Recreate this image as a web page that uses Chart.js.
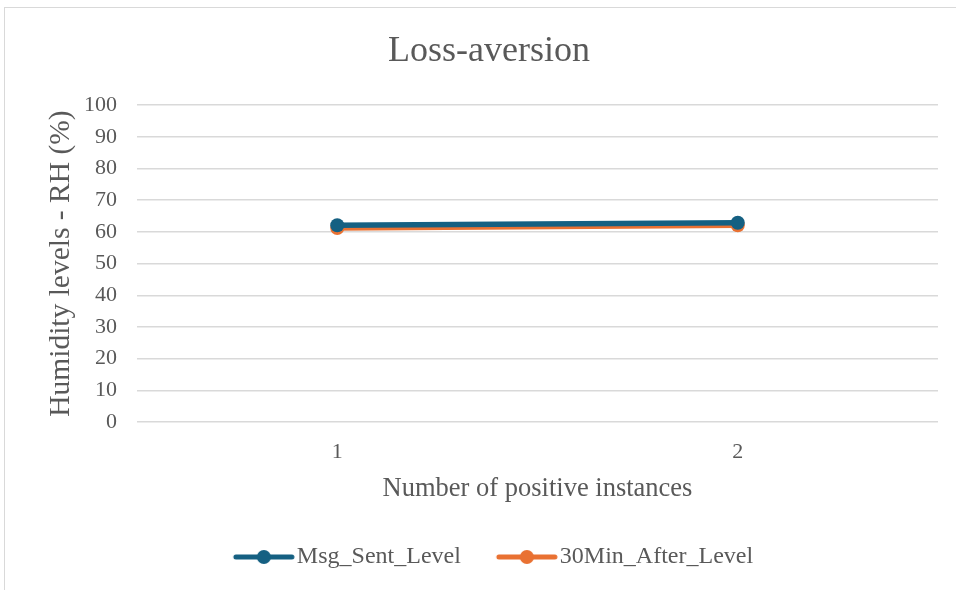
<!DOCTYPE html>
<html>
<head>
<meta charset="utf-8">
<script src="https://cdn.jsdelivr.net/npm/chart.js@4.4.1/dist/chart.umd.min.js"></script>
<style>
  html, body { margin: 0; padding: 0; background: #ffffff; overflow: hidden; }
  #wrap { position: relative; width: 956px; height: 590px; overflow: hidden; }
  #frame { position: absolute; left: 4px; top: 7px; width: 1000px; height: 700px;
           border: 1.5px solid #d9d9d9; box-sizing: border-box; }
  #box { position: absolute; left: 0; top: 0; width: 996px; height: 590px; }
</style>
</head>
<body>
<div id="wrap">
  <div id="frame"></div>
  <div id="box"><canvas id="chart" width="996" height="590"></canvas></div>
</div>
<script>
// Humidity readings (RH %) for each positive instance
const categories = ['1', '2'];
const msgSentLevel = [62.1, 62.9];
const after30MinLevel = [61.2, 62.1];
const yTicks = [0, 10, 20, 30, 40, 50, 60, 70, 80, 90, 100];

const BLUE = '#156082';
const ORANGE = '#E97132';
const TEXT = '#595959';
const FONT = "'Liberation Serif', 'Times New Roman', serif";

// Legend symbol: short thick line with a dot in the middle,
// right-aligned inside the image so the label follows it closely
function legendSymbol(color) {
  const c = document.createElement('canvas');
  c.width = 82; c.height = 18;
  const g = c.getContext('2d');
  g.strokeStyle = color; g.lineWidth = 5; g.lineCap = 'round';
  g.beginPath(); g.moveTo(22, 9); g.lineTo(78, 9); g.stroke();
  g.fillStyle = color;
  g.beginPath(); g.arc(50, 9, 7, 0, Math.PI * 2); g.fill();
  return c;
}

new Chart(document.getElementById('chart'), {
  type: 'line',
  data: {
    labels: categories,
    datasets: [
      { label: 'Msg_Sent_Level', data: msgSentLevel, borderColor: BLUE, backgroundColor: BLUE,
        borderWidth: 5.5, pointRadius: 7, pointHoverRadius: 7, pointBorderWidth: 0, tension: 0 },
      { label: '30Min_After_Level', data: after30MinLevel, borderColor: ORANGE, backgroundColor: ORANGE,
        borderWidth: 5.5, pointRadius: 7, pointHoverRadius: 7, pointBorderWidth: 0, tension: 0 }
    ]
  },
  options: {
    responsive: false,
    animation: false,
    layout: { padding: { left: 40, right: 58, top: 30, bottom: 11 } },
    plugins: {
      title: {
        display: true, text: 'Loss-aversion', color: TEXT,
        font: { family: FONT, size: 36, weight: 'normal' },
        padding: { top: 0, bottom: 32 }
      },
      legend: {
        position: 'bottom',
        labels: {
          color: TEXT,
          font: { family: FONT, size: 24 },
          usePointStyle: true,
          pointStyleWidth: 60,
          padding: 27,
          generateLabels(chart) {
            return chart.data.datasets.map((ds, i) => ({
              text: ds.label, fontColor: TEXT, datasetIndex: i,
              pointStyle: legendSymbol(ds.borderColor),
              fillStyle: ds.borderColor, strokeStyle: ds.borderColor, lineWidth: 0, hidden: false
            }));
          }
        }
      },
      tooltip: { enabled: false }
    },
    scales: {
      x: {
        offset: true,
        afterFit(scale) { scale.height = 96; },
        grid: { display: false, drawTicks: false },
        border: { display: false },
        ticks: { color: TEXT, font: { family: FONT, size: 22 }, padding: 17 },
        title: { display: true, text: 'Number of positive instances', color: TEXT,
                 font: { family: FONT, size: 26.5 }, padding: { top: 0, bottom: 13 } }
      },
      y: {
        min: 0, max: 100,
        afterBuildTicks(axis) { axis.ticks = yTicks.map(v => ({ value: v })); },
        afterFit(scale) { scale.width = 97; },
        grid: { color: '#d9d9d9', lineWidth: 1.5, drawTicks: false },
        border: { display: false },
        ticks: { color: TEXT, font: { family: FONT, size: 22 }, padding: 20, autoSkip: false },
        title: { display: true, text: 'Humidity levels - RH (%)', color: TEXT,
                 font: { family: FONT, size: 29.5 }, padding: { top: 4, bottom: 0 } }
      }
    }
  }
});
</script>
</body>
</html>
